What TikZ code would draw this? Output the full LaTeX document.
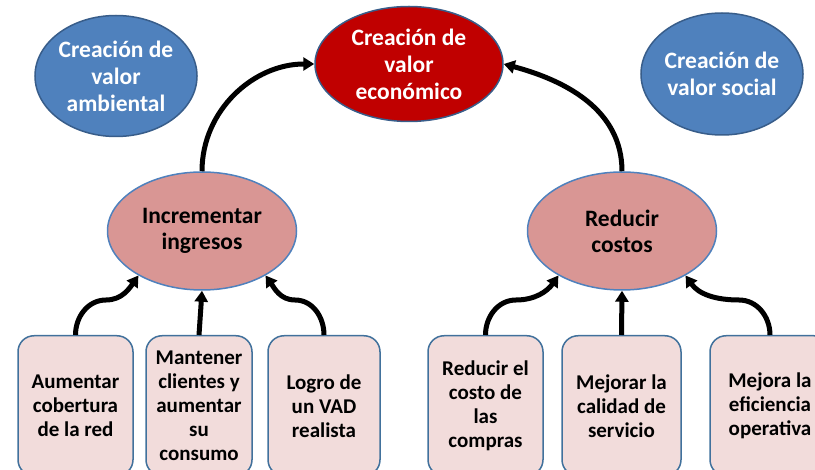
\documentclass[tikz,border=0pt]{standalone}
\usepackage{fontspec}
\setmainfont{Carlito}
\usetikzlibrary{shapes.geometric,arrows.meta}
\definecolor{blueF}{RGB}{79,129,189}
\definecolor{blueD}{RGB}{56,93,138}
\definecolor{redF}{RGB}{192,0,0}
\definecolor{pinkE}{RGB}{217,150,148}
\definecolor{pinkB}{RGB}{242,220,219}
\definecolor{boxB}{RGB}{65,113,156}
\tikzset{
  topell/.style={ellipse, draw=blueD, line width=1.5pt, inner sep=0pt, text=white,
    font=\bfseries\fontsize{23.5}{27}\selectfont, align=center},
  midell/.style={ellipse, draw=blueF, fill=pinkE, line width=1.5pt, inner sep=0pt,
    minimum width=189pt, minimum height=118pt,
    font=\bfseries\fontsize{23.5}{26}\selectfont, align=center},
  leaf/.style={rectangle, rounded corners=16pt, draw=boxB, fill=pinkB, line width=1.5pt,
    minimum height=140pt, inner sep=0pt, anchor=north,
    font=\bfseries\fontsize{21}{24}\selectfont, align=center},
  conn/.style={line width=5pt, -{Triangle[length=11pt,width=13pt]}}
}
\begin{document}
\begin{tikzpicture}[x=1pt,y=-1pt]
\useasboundingbox (0,0) rectangle (815,470);
\node[topell, fill=blueF, minimum width=162pt, minimum height=121pt] (amb) at (116,76) {Creación de\\valor\\ambiental};
\node[topell, fill=redF, minimum width=188pt, minimum height=115pt] (eco) at (409,64) {Creación de\\valor\\económico};
\node[topell, fill=blueF, minimum width=161pt, minimum height=122pt] (soc) at (722,74) {Creación de\\valor social};
\node[midell] (inc) at (202,231) {Incrementar\\ingresos};
\node[midell] (red) at (622,231) {Reducir\\costos};
\node[leaf, minimum width=115pt] (b1) at (75.5,335) {Aumentar\\cobertura\\de la red};
\node[leaf, minimum width=106pt] (b2) at (199,335) {Mantener\\clientes y\\aumentar\\su\\consumo};
\node[leaf, minimum width=112pt] (b3) at (324,335) {Logro de\\un VAD\\realista};
\node[leaf, minimum width=115pt] (b4) at (485.5,335) {Reducir el\\costo de\\las\\compras};
\node[leaf, minimum width=119pt] (b5) at (621.5,335) {Mejorar la\\calidad de\\servicio};
\node[leaf, minimum width=120pt] (b6) at (770,335) {Mejora la\\eficiencia\\operativa};
\coordinate (m1) at (106,300);
\coordinate (m3) at (295,300);
\coordinate (m4) at (516,300);
\coordinate (m6) at (739,300);
\draw[conn] (b1.north) to[out=90,in=180] (m1) to[out=0,in=-125] (inc.215);
\draw[conn] (b2.north) -- (inc.south);
\draw[conn] (b3.north) to[out=90,in=0] (m3) to[out=180,in=-55] (inc.-35);
\draw[conn] (b4.north) to[out=90,in=180] (m4) to[out=0,in=-125] (red.215);
\draw[conn] (b5.north) -- (red.south);
\draw[conn] (b6.north) to[out=90,in=0] (m6) to[out=180,in=-55] (red.-35);
\draw[conn] (inc.north) to[out=90,in=180] (eco.west);
\draw[conn] (red.north) to[out=90,in=-15] (eco.east);
\end{tikzpicture}
\end{document}
